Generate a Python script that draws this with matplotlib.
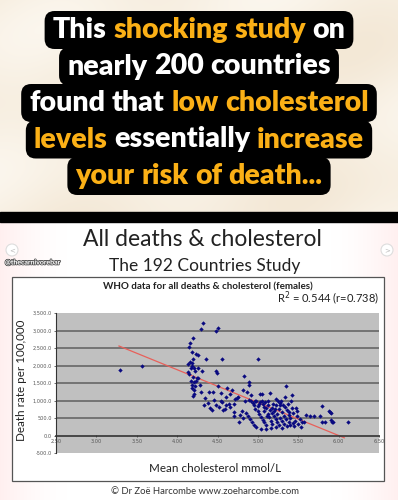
import numpy as np
import matplotlib
matplotlib.use('Agg')
import matplotlib.pyplot as plt
from matplotlib.patches import FancyBboxPatch, Rectangle, Circle
import matplotlib.patheffects as pe

# ---- data ----
chol = [3.29, 3.56,
        4.32, 4.29, 4.51, 4.48, 4.20, 4.16, 4.15, 4.19, 4.23, 4.26,
        4.36, 4.56, 5.00, 4.20, 4.16, 4.14, 4.18, 4.18, 4.21, 4.17,
        4.26, 4.22, 4.31, 4.48, 4.49, 4.13, 4.20, 4.26, 4.17, 4.21,
        4.23, 4.18, 4.22, 4.19, 4.21, 4.21, 4.20, 4.29, 4.40, 4.50,
        4.54, 4.62, 4.68, 4.66, 4.46, 4.54, 4.56, 4.41, 4.43, 4.57,
        4.59, 4.65, 4.71, 4.71, 4.77, 4.35, 4.38, 4.33, 4.45, 4.60,
        4.72, 4.83, 4.89, 4.89, 4.81, 4.87, 4.92, 5.03, 5.05, 5.15,
        5.35, 5.42, 4.74, 4.89, 4.92, 4.94, 4.98, 5.03, 5.25, 4.95,
        5.00, 5.06, 5.08, 5.10, 5.12, 5.15, 5.18, 5.20, 5.22, 5.24,
        5.26, 5.28, 5.30, 5.32, 5.34, 5.36, 5.38, 5.40, 5.42, 5.44,
        5.46, 5.48, 5.49, 5.52, 5.55, 5.57, 4.97, 5.00, 5.02, 5.04,
        5.06, 5.08, 5.10, 5.12, 5.14, 5.16, 5.18, 5.20, 5.22, 5.24,
        5.26, 5.28, 5.30, 5.32, 5.35, 5.38, 5.40, 5.43, 5.45, 5.50,
        5.53, 4.85, 4.88, 4.90, 4.93, 4.82, 4.78, 4.95, 4.98, 5.04,
        5.10, 5.16, 5.22, 5.30, 5.36, 5.80, 5.88, 5.89, 5.91, 5.70,
        5.77, 5.80, 5.83, 5.91, 5.93, 5.92, 6.11,
        4.96, 5.01, 5.05, 5.07, 5.09, 5.11, 5.13, 5.17, 5.19, 5.21,
        5.23, 5.27, 5.29, 5.31, 5.33, 5.37, 5.39, 5.41, 4.60, 4.64,
        4.48, 4.52, 4.70, 4.75, 4.80, 4.84, 5.47, 5.60, 5.65, 4.25, 4.28, 4.15]
deaths = [1870, 2000,
          3220, 3050, 3070, 3000, 2790, 2630, 2535, 2390, 2340, 2295,
          2190, 2190, 2190, 2200, 2105, 2055, 2075, 1980, 1935, 1915,
          1935, 1855, 1855, 1835, 1790, 1805, 1665, 1645, 1550, 1530,
          1570, 1445, 1415, 1350, 1300, 1195, 1120, 1235, 1235, 1425,
          1215, 1360, 1290, 1195, 1005, 975, 960, 785, 715, 715,
          755, 815, 660, 545, 400, 1060, 930, 880, 1250, 1100,
          1050, 1710, 1530, 1455, 1290, 1245, 1165, 1185, 1185, 1215,
          1405, 1165, 1070, 1025, 975, 930, 975, 945, 975, 880,
          850, 900, 820, 780, 860, 740, 800, 700, 880, 620,
          760, 940, 680, 560, 820, 720, 600, 500, 780, 640,
          420, 560, 690, 460, 380, 400, 760, 700, 620, 520,
          440, 380, 300, 620, 520, 420, 340, 560, 460, 380,
          300, 500, 420, 340, 460, 380, 300, 360, 260, 330,
          250, 640, 560, 480, 400, 500, 580, 300, 240, 200,
          180, 220, 240, 210, 260, 850, 690, 670, 640, 545,
          545, 385, 385, 450, 400, 375, 385,
          1000, 900, 980, 700, 950, 560, 1000, 650, 900, 750,
          1050, 860, 1000, 880, 1100, 900, 660, 1000, 860, 900,
          880, 820, 900, 1100, 700, 980, 780, 600, 560, 1650, 1450, 1750]

trend_x = [3.28, 6.07]
trend_y = [2557, -66]

x_ticks = [2.5, 3.0, 3.5, 4.0, 4.5, 5.0, 5.5, 6.0, 6.5]
y_ticks = [-500, 0, 500, 1000, 1500, 2000, 2500, 3000, 3500]

headline = [
    [("This", 0), ("shocking", 1), ("study", 1), ("on", 0)],
    [("nearly", 0), ("200", 0), ("countries", 0)],
    [("found", 0), ("that", 0), ("low", 1), ("cholesterol", 1)],
    [("levels", 1), ("essentially", 0), ("increase", 1)],
    [("your", 1), ("risk", 1), ("of", 1), ("death...", 1)],
]

WHITE = '#ffffff'
ORANGE = '#fbb016'
W, H = 398, 500

fig = plt.figure(figsize=(W / 100, H / 100), dpi=100)
bg = fig.add_axes([0, 0, 1, 1])
bg.set_xlim(0, W)
bg.set_ylim(H, 0)
bg.axis('off')

# marble top
yy, xx = np.mgrid[0:213, 0:W]
tone = 0.5 + 0.5 * np.sin(xx / 55.0 + yy / 35.0) * np.cos(yy / 60.0 - xx / 90.0)
base = np.array([0.955, 0.91, 0.84])
light = np.array([0.985, 0.965, 0.93])
marble = base[None, None, :] * (1 - tone[..., None]) + light[None, None, :] * tone[..., None]
bg.imshow(marble, extent=[0, W, 213, 0], aspect='auto', zorder=0)

# slide background, faint pink at the edges
sx = np.linspace(0, 1, W)
edge = np.clip(1 - np.minimum(sx, 1 - sx) * 6, 0, 1) ** 1.5
slide = np.ones((2, W, 3))
slide[..., 1] -= 0.06 * edge
slide[..., 2] -= 0.06 * edge
bg.imshow(slide, extent=[0, W, H, 222], aspect='auto', zorder=0)
bg.add_patch(Rectangle((0, 212), W, 10, color='black', zorder=1))

# headline
fig.canvas.draw()
rend = fig.canvas.get_renderer()
hfont = dict(family='Lato', weight='heavy', fontsize=20.5)


def text_w(s):
    t = bg.text(0, 0, s, **hfont)
    w = t.get_window_extent(rend).width
    t.remove()
    return w


space = text_w('a b') - text_w('ab')
line_y = [30, 66.5, 103, 139.5, 176]
for words, cy in zip(headline, line_y):
    widths = [text_w(wd) for wd, _ in words]
    total = sum(widths) + space * (len(words) - 1)
    x0 = W / 2 - total / 2
    bg.add_patch(FancyBboxPatch((x0 - 4, cy - 15), total + 8, 30,
                                boxstyle='round,pad=4,rounding_size=10',
                                fc='black', ec='none', zorder=2))
    x = x0
    for (wd, hl), w in zip(words, widths):
        bg.text(x, cy, wd, color=ORANGE if hl else WHITE, va='center',
                ha='left', zorder=3, **hfont)
        x += w + space

# slide texts
bg.text(202, 239, 'All deaths & cholesterol', ha='center', va='center',
        family='Lato', fontsize=16.5, color='#222222')
bg.text(205, 266, 'The 192 Countries Study', ha='center', va='center',
        family='Lato', fontsize=12.5, color='#222222')
bg.text(5, 262, '@thecarnivorebar', ha='left', va='center', family='Lato',
        weight='bold', fontsize=5, color='white',
        path_effects=[pe.withStroke(linewidth=1.2, foreground='#555555')])
for cx, ch in [(12, '<'), (387, '>')]:
    bg.add_patch(Circle((cx, 250), 6, fc='white', ec='#dddddd', lw=0.8))
    bg.text(cx, 250, ch, ha='center', va='center', fontsize=5, color='#bbbbbb')

bg.add_patch(Rectangle((12, 277), 372, 204, fc='white', ec='#555555', lw=0.9))
bg.text(208, 287, 'WHO data for all deaths & cholesterol (females)', ha='center',
        va='center', family='Lato', weight='bold', fontsize=7.1, color='#222222')
bg.text(328, 298, 'R$^2$ = 0.544 (r=0.738)', ha='center', va='center',
        family='Lato', fontsize=8, color='#222222')
bg.text(22, 380, 'Death rate per 100,000', rotation=90, ha='center', va='center',
        family='Lato', fontsize=8.4, color='#222222')
bg.text(215, 469, 'Mean cholesterol mmol/L', ha='center', va='center',
        family='Lato', fontsize=8.4, color='#222222')
bg.text(205, 491, '© Dr Zoë Harcombe www.zoeharcombe.com', ha='center',
        va='center', family='Lato', fontsize=6.8, color='#333333')

# scatter plot
ax = fig.add_axes([56 / W, 1 - 453 / H, 323 / W, 140 / H])
ax.set_facecolor('#c0c0c0')
ax.set_xlim(x_ticks[0], x_ticks[-1])
ax.set_ylim(y_ticks[0], y_ticks[-1])
for yv in y_ticks[2:-1]:
    ax.axhline(yv, color='#6e6e6e', lw=1.3, zorder=1)
ax.plot(trend_x, trend_y, color='#e8605a', lw=0.9, zorder=2)
ax.scatter(chol, deaths, s=5, marker='D', color='#0a0a80', lw=0, zorder=3)

for s in ['top', 'right']:
    ax.spines[s].set_visible(False)
ax.spines['bottom'].set_position(('data', 0))
ax.spines['bottom'].set_color('#333333')
ax.spines['bottom'].set_linewidth(1.2)
ax.spines['left'].set_color('#333333')
ax.spines['left'].set_linewidth(0.8)
ax.set_xticks(x_ticks)
ax.set_xticklabels(['%.2f' % v for v in x_ticks])
ax.set_yticks(y_ticks)
ax.set_yticklabels(['{:,.1f}'.format(v) for v in y_ticks])
ax.tick_params(axis='both', labelsize=3.6, labelcolor='#555555', length=1.5,
               width=0.5, color='#333333', pad=1.5)
ax.tick_params(axis='x', direction='inout')

fig.savefig('out.png', dpi=100)
